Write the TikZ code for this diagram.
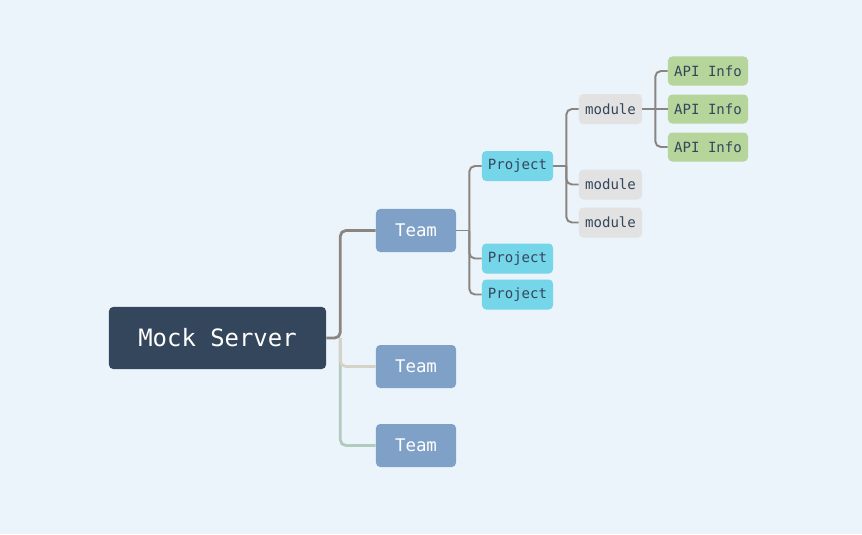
\documentclass[tikz,border=0pt]{standalone}
\usepackage{fontspec}
\setmonofont{DejaVu Sans Mono}
\usepackage{xcolor}
\usepackage{tikz}
\usetikzlibrary{positioning}

\definecolor{bgcol}{HTML}{EBF4FA}
\definecolor{rootcol}{HTML}{34465C}
\definecolor{teamcol}{HTML}{7FA0C7}
\definecolor{projcol}{HTML}{75D5E9}
\definecolor{modcol}{HTML}{E2E2E2}
\definecolor{apicol}{HTML}{B5D59B}
\definecolor{linecol}{HTML}{8A8580}
\definecolor{line2col}{HTML}{D6D2C8}
\definecolor{line3col}{HTML}{B3CBBE}

\tikzset{
  box/.style={rounded corners=3pt, inner sep=0pt, font=\ttfamily},
  rootbox/.style={box, fill=rootcol, text=white, minimum width=5.425cm, minimum height=1.55cm, font=\ttfamily\fontsize{17}{20}\selectfont},
  teambox/.style={box, fill=teamcol, text=white, minimum width=2cm, minimum height=1.075cm, font=\ttfamily\fontsize{12.4}{15}\selectfont},
  projbox/.style={box, fill=projcol, text=rootcol, minimum width=1.775cm, minimum height=0.75cm, font=\ttfamily\fontsize{10}{12}\selectfont},
  modbox/.style={box, fill=modcol, text=rootcol, minimum width=1.575cm, minimum height=0.75cm, font=\ttfamily\fontsize{10}{12}\selectfont},
  apibox/.style={box, fill=apicol, text=rootcol, minimum width=2cm, minimum height=0.725cm, font=\ttfamily\fontsize{10}{12}\selectfont},
  branch/.style={line width=2pt, rounded corners=4pt},
  twig/.style={line width=1.4pt, rounded corners=4pt, linecol},
}

\begin{document}
\begin{tikzpicture}[x=0.025cm, y=-0.025cm]
\useasboundingbox[fill=bgcol] (0,0) rectangle (862,534);

% Root and teams
\node[rootbox] (root) at (217.5, 338) {Mock Server};
\node[teambox] (t1) at (416, 230.5) {Team};
\node[teambox] (t2) at (416, 366.5) {Team};
\node[teambox] (t3) at (416, 445.5) {Team};

% Projects
\node[projbox] (p1) at (517.5, 166) {Project};
\node[projbox] (p2) at (517.5, 258.5) {Project};
\node[projbox] (p3) at (517.5, 294.5) {Project};

% Modules
\node[modbox] (m1) at (610.5, 109) {module};
\node[modbox] (m2) at (610.5, 184.5) {module};
\node[modbox] (m3) at (610.5, 222.5) {module};

% API info
\node[apibox] (a1) at (708, 71) {API Info};
\node[apibox] (a2) at (708, 109) {API Info};
\node[apibox] (a3) at (708, 147) {API Info};

% Junctions
\path (root.east) -- ++(14,0) coordinate (jroot);
\path (t1.east) -- ++(13,0) coordinate (jt1);
\path (p1.east) -- ++(13,0) coordinate (jp1);
\path (m1.east) -- ++(13,0) coordinate (jm1);

% Connectors
\draw[branch, line3col] (jroot) |- (t3.west);
\draw[branch, line2col] (jroot) |- (t2.west);
\draw[branch, linecol] (root.east) -- (jroot) |- (t1.west);
\draw[twig] (t1.east) -- (jt1);
\foreach \n in {p1, p2, p3}
  \draw[twig] (jt1) |- (\n.west);
\draw[twig] (p1.east) -- (jp1);
\foreach \n in {m1, m2, m3}
  \draw[twig] (jp1) |- (\n.west);
\draw[twig] (m1.east) -- (a2.west);
\foreach \n in {a1, a3}
  \draw[twig] (jm1) |- (\n.west);
\end{tikzpicture}
\end{document}
